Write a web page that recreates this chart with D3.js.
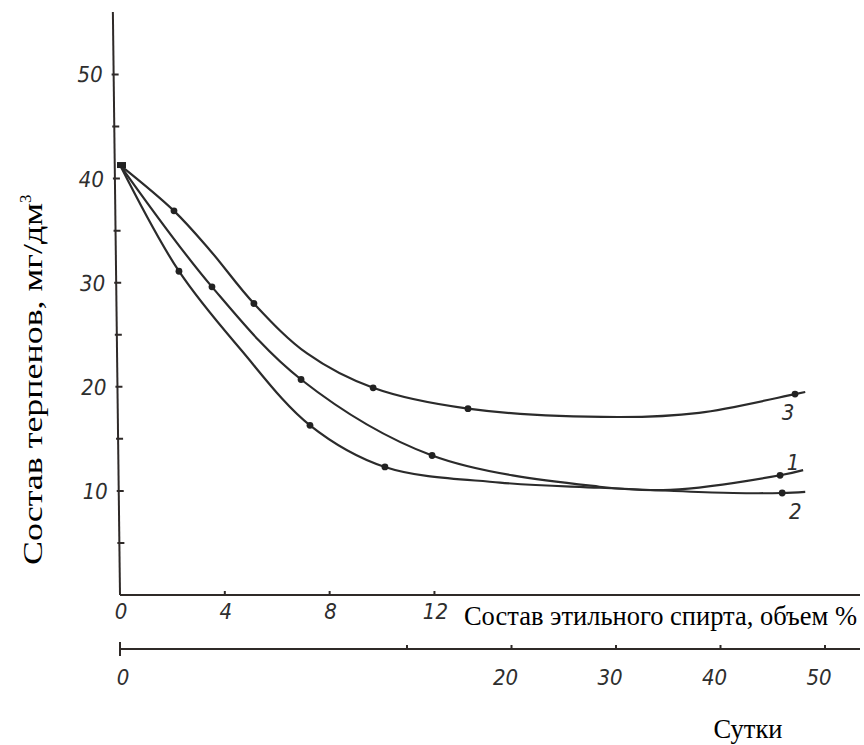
<!DOCTYPE html>
<html lang="ru">
<head>
<meta charset="utf-8">
<style type="text/css">
    body { margin: 0; background: #fff; }
    .tick-label { font-family: "DejaVu Sans Condensed", "DejaVu Sans", sans-serif; font-style: italic; font-size: 22px; fill: #2e2e2e; }
    .axis-title { font-family: "Liberation Serif", "Times New Roman", serif; font-size: 26.5px; fill: #000; }
    .curve { fill: none; stroke: #2b2b2b; stroke-width: 2.2; }
    .axis-line { stroke: #2f2a28; stroke-width: 2; fill: none; }
</style>
</head>
<body>
<svg width="864" height="745"></svg>
<script src="https://d3js.org/d3.v7.min.js"></script>
<script type="text/javascript">

    // y axis: terpenes, mg/dm3
    var yTicks = [5, 10, 15, 20, 25, 30, 35, 40, 45, 50];
    var yLabels = [10, 20, 30, 40, 50];
    // upper x axis: ethanol, vol %
    var alcTicks = [4, 8, 12];
    var alcLabels = [0, 4, 8, 12];
    // lower x axis: days
    var dayTicks = [10, 20, 30, 40, 50];
    var dayLabels = [0, 20, 30, 40, 50];

    var startPoint = [0, 41.3];

    // traced lines
    var line1 = [[0, 41.3], [3.51, 29.6], [6.91, 20.7], [11.91, 13.4], [18.3, 10.4], [21, 10.1], [25.19, 11.5], [26.07, 12.0]];
    var line2 = [[0, 41.3], [2.25, 31.1], [4.6, 23.6], [7.25, 16.3], [10.11, 12.3], [14.5, 10.8], [18.3, 10.3], [23.4, 9.8], [25.27, 9.8], [26.15, 9.9]];
    var line3 = [[0, 41.3], [2.06, 36.9], [3.44, 33.1], [5.11, 28.0], [7.14, 23.2], [9.66, 19.9], [13.28, 17.9], [19, 17.1], [22.1, 17.5], [25.76, 19.3], [26.15, 19.5]];

    // measured points
    var points1 = [[3.51, 29.6], [6.91, 20.7], [11.91, 13.4], [25.19, 11.5]];
    var points2 = [[2.25, 31.1], [7.25, 16.3], [10.11, 12.3], [25.27, 9.8]];
    var points3 = [[2.06, 36.9], [5.11, 28.0], [9.66, 19.9], [13.28, 17.9], [25.76, 19.3]];

    var svg = d3.select("svg");

    var x = d3.scaleLinear().domain([0, 28.24]).range([120, 860]);
    var y = d3.scaleLinear().domain([0, 56]).range([595, 12]);
    var xDays = d3.scaleLinear().domain([0, 10, 50, 53.3]).range([120, 407, 825, 860]);
    var dayAxisY = 649;

    // y axis, drawn a little slanted like the hand drawing
    var yAxis = svg.append("g")
        .attr("transform", "translate(120,595) skewX(0.7) translate(-120,-595)");
    yAxis.append("line").attr("class", "axis-line")
        .attr("x1", x(0)).attr("x2", x(0))
        .attr("y1", y(0)).attr("y2", y(56));
    yAxis.selectAll(".ytick").data(yTicks).enter().append("line")
        .attr("class", "axis-line")
        .attr("stroke-width", 1.6)
        .attr("x1", x(0) - 2).attr("x2", x(0) + 5)
        .attr("y1", function (d) { return y(d); })
        .attr("y2", function (d) { return y(d); });
    yAxis.selectAll(".ylabel").data(yLabels).enter().append("text")
        .attr("class", "tick-label")
        .attr("text-anchor", "end")
        .attr("x", x(0) - 11)
        .attr("y", function (d) { return y(d) + 8; })
        .text(function (d) { return d; });

    // upper x axis
    svg.append("line").attr("class", "axis-line")
        .attr("x1", x(0)).attr("x2", x(28.24))
        .attr("y1", y(0)).attr("y2", y(0));
    svg.selectAll(".xtick").data(alcTicks).enter().append("line")
        .attr("class", "axis-line").attr("stroke-width", 1.4)
        .attr("x1", function (d) { return x(d); })
        .attr("x2", function (d) { return x(d); })
        .attr("y1", y(0)).attr("y2", y(0) - 4);
    svg.selectAll(".xlabel").data(alcLabels).enter().append("text")
        .attr("class", "tick-label")
        .attr("text-anchor", "middle")
        .attr("x", function (d) { return x(d) + 1; })
        .attr("y", y(0) + 24)
        .text(function (d) { return d; });
    svg.append("text").attr("class", "axis-title")
        .attr("text-anchor", "end")
        .attr("x", 857).attr("y", 625)
        .text("Состав этильного спирта, объем %");

    // lower axis, days
    svg.append("line").attr("class", "axis-line")
        .attr("x1", xDays(0)).attr("x2", xDays(53.3))
        .attr("y1", dayAxisY).attr("y2", dayAxisY);
    svg.append("line").attr("class", "axis-line")
        .attr("x1", xDays(0)).attr("x2", xDays(0))
        .attr("y1", dayAxisY - 7).attr("y2", dayAxisY + 7);
    svg.selectAll(".dtick").data(dayTicks).enter().append("line")
        .attr("class", "axis-line").attr("stroke-width", 1.4)
        .attr("x1", function (d) { return xDays(d); })
        .attr("x2", function (d) { return xDays(d); })
        .attr("y1", dayAxisY - 4).attr("y2", dayAxisY + 1);
    svg.selectAll(".dlabel").data(dayLabels).enter().append("text")
        .attr("class", "tick-label")
        .attr("text-anchor", "middle")
        .attr("x", function (d) { return xDays(d) + (d == 0 ? 3 : -6); })
        .attr("y", dayAxisY + 36)
        .text(function (d) { return d; });
    svg.append("text").attr("class", "axis-title")
        .attr("text-anchor", "middle")
        .attr("font-size", 27)
        .attr("x", 748).attr("y", 738)
        .text("Сутки");

    // y title (stretched along its length, as in the scan)
    var yTitle = svg.append("text").attr("class", "axis-title")
        .attr("font-size", 26)
        .attr("transform", "translate(42,565) rotate(-90)");
    yTitle.append("tspan")
        .attr("textLength", 362)
        .attr("lengthAdjust", "spacingAndGlyphs")
        .text("Состав терпенов, мг/дм");
    yTitle.append("tspan").attr("dy", -11).attr("font-size", 17).text("3");

    // curves
    var lineGen = d3.line()
        .x(function (d) { return x(d[0]); })
        .y(function (d) { return y(d[1]); })
        .curve(d3.curveCatmullRom.alpha(0.5));

    [line1, line2, line3].forEach(function (l) {
        svg.append("path").attr("class", "curve").attr("d", lineGen(l));
    });

    var allPoints = points1.concat(points2, points3);
    svg.selectAll(".dot").data(allPoints).enter().append("circle")
        .attr("cx", function (d) { return x(d[0]); })
        .attr("cy", function (d) { return y(d[1]); })
        .attr("r", 3.4)
        .attr("fill", "#222");

    svg.append("rect")
        .attr("x", x(startPoint[0]) - 3).attr("y", y(startPoint[1]) - 3)
        .attr("width", 9).attr("height", 6)
        .attr("fill", "#222");

    // curve numbers next to the last points
    var curveTags = [
        { name: "3", pts: points3, dx: -7, dy: 26 },
        { name: "1", pts: points1, dx: 13, dy: -5 },
        { name: "2", pts: points2, dx: 13, dy: 26 }
    ];
    curveTags.forEach(function (t) {
        var last = t.pts[t.pts.length - 1];
        svg.append("text").attr("class", "tick-label")
            .attr("text-anchor", "middle")
            .attr("font-size", 22)
            .attr("x", x(last[0]) + t.dx)
            .attr("y", y(last[1]) + t.dy)
            .text(t.name);
    });

</script>
</body>
</html>
